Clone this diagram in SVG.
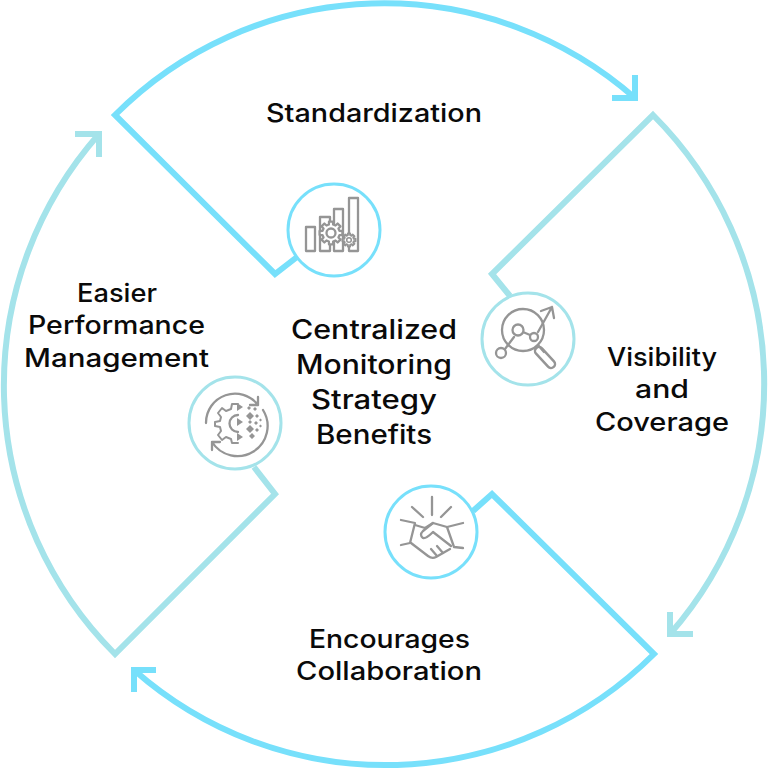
<svg xmlns="http://www.w3.org/2000/svg" width="768" height="769" viewBox="0 0 768 769">
<style>
.c{fill:none;stroke-width:6;stroke-linejoin:miter}
.blue{stroke:#77e0fb}
.teal{stroke:#a4e3ea}
.ring{fill:#fff;stroke-width:3}
.i{fill:none;stroke:#959595;stroke-width:2.300;stroke-linecap:round;stroke-linejoin:round}
.w{fill:#fff}
.f{fill:#959595;stroke:none}
text{font-family:"Inter","Noto Sans",sans-serif;font-size:25.500px;font-weight:500;fill:#0a0a0a;text-anchor:middle}
.m{font-size:26.500px}
</style>
<defs>
<path id="gear" vector-effect="non-scaling-stroke" d="M8.05 -2L10.83 -1.91V1.91L8.05 2L7.11 4.28L9.01 6.31L6.31 9.01L4.28 7.11L2 8.05L1.91 10.83H-1.91L-2 8.05L-4.28 7.11L-6.31 9.01L-9.01 6.31L-7.11 4.28L-8.05 2L-10.83 1.91V-1.91L-8.05 -2L-7.11 -4.28L-9.01 -6.31L-6.31 -9.01L-4.28 -7.11L-2 -8.05L-1.91 -10.83H1.91L2 -8.05L4.28 -7.11L6.31 -9.01L9.01 -6.31L7.11 -4.28Z"/>
</defs>
<rect width="768" height="769" fill="#fff"/>
<g id="connectors">
<path class="c blue" d="M297 257L275 274L115 115A380 380 0 0 1 635 98M635 75V98H612"/>
<path class="c teal" d="M510 296L492 274L653 115A380 380 0 0 1 670 634M670 612V634H693"/>
<path class="c blue" d="M473 511L492 494L654 654A380 380 0 0 1 134 670M156 670H134V692"/>
<path class="c teal" d="M254 467L275 494L115 654A380 380 0 0 1 99 134M75 134H99V157"/>
</g>
<g id="center"><text class="m" x="374" y="339" textLength="166" lengthAdjust="spacingAndGlyphs">Centralized</text><text class="m" x="374" y="374" textLength="156" lengthAdjust="spacingAndGlyphs">Monitoring</text><text class="m" x="374" y="409" textLength="126" lengthAdjust="spacingAndGlyphs">Strategy</text><text class="m" x="374" y="444" textLength="116" lengthAdjust="spacingAndGlyphs">Benefits</text></g>
<g id="node-standardization">
<text x="374" y="122" textLength="216" lengthAdjust="spacingAndGlyphs">Standardization</text>
<circle class="ring blue" cx="334" cy="230" r="46"/>
<g class="i"><path d="M306 227h9v24h-9zM320 217h10v34h-10zM334 209h9v42h-9zM349 198h9v53h-9z"/>
<use href="#gear" class="w" transform="translate(331 233) scale(1.05)"/><circle class="w" cx="331" cy="233" r="4.500"/>
<use href="#gear" class="w" transform="translate(349 240) scale(.6)" style="stroke-width:2"/><circle class="w" cx="349" cy="240" r="2.300" style="stroke-width:1.500"/></g>
</g>
<g id="node-visibility">
<text x="662" y="366" textLength="110" lengthAdjust="spacingAndGlyphs">Visibility</text><text x="662" y="398" textLength="54" lengthAdjust="spacingAndGlyphs">and</text><text x="662" y="431" textLength="134" lengthAdjust="spacingAndGlyphs">Coverage</text>
<circle class="ring teal" cx="528" cy="339" r="46"/>
<g class="i"><circle cx="523" cy="330" r="21"/><path d="M505 349L514 337M523 332L530 335M538 332L552 307M541 311L552 307L554 318"/>
<path d="M539 351L551 364" style="stroke-width:10.500"/><path d="M539 351L551 364" style="stroke-width:5.500;stroke:#fff"/><path d="M538 345L544 352"/>
<circle class="w" cx="501" cy="353" r="5"/><circle class="w" cx="518" cy="330" r="5.500"/><circle class="w" cx="534" cy="337" r="4"/></g>
</g>
<g id="node-collaboration">
<text x="389.500" y="648" textLength="161" lengthAdjust="spacingAndGlyphs">Encourages</text><text x="389" y="680" textLength="186" lengthAdjust="spacingAndGlyphs">Collaboration</text>
<circle class="ring blue" cx="431" cy="532" r="46"/>
<g class="i"><path d="M432 497V515M412 507L423 517M451 507L441 517"/>
<path d="M401 520L415 523L410 543L401 545M463 523L447 527L454 547L463 548"/>
<path d="M415 525L425 528L433 523L447 527M411 543L428 556Q432 559 436 557L450 549"/>
<path d="M433 523L423 531Q419 535 423 538Q426 539 433 532L451 546M437 556L431 549M443 553L437 546"/></g>
</g>
<g id="node-performance">
<text x="117" y="302" textLength="80" lengthAdjust="spacingAndGlyphs">Easier</text><text x="116.500" y="334" textLength="177" lengthAdjust="spacingAndGlyphs">Performance</text><text x="116.500" y="367" textLength="185" lengthAdjust="spacingAndGlyphs">Management</text>
<circle class="ring teal" cx="235" cy="423" r="46"/>
<g class="i"><path d="M206 423A29 29 0 0 1 258 405M258 397V405H250"/><path d="M263 410A30 30 0 0 1 212 442M212 450V442H220"/>
<path d="M238 404H232L231 409L226 411L222 408L218 413L221 417L220 421L215 422V426L220 427L221 431L218 435L222 440L226 437L231 439L232 443H238" style="stroke-width:2"/>
<path d="M238 415A8.500 8.500 0 0 0 238 432"/></g>
<g class="f"><path d="M237 403l6 4l-6 4zM237 418l6 4l-6 4zM237 433l6 4l-6 4z"/>
<path d="M246 416l4-4l4 4l-4 4zM246 429l4-4l4 4l-4 4zM249 436l3-3l3 3l-3 3zM248 422l2-2l2 2l-2 2zM247 408l2-2l2 2l-2 2zM253 409l2-2l2 2l-2 2zM255 416l2-2l2 2l-2 2zM254 423l2-2l2 2l-2 2zM259 420l1.500-1.500l1.500 1.500l-1.500 1.500zM255 430l2-2l2 2l-2 2zM259 426l1.500-1.500l1.500 1.500l-1.500 1.500z"/></g>
</g>
</svg>
